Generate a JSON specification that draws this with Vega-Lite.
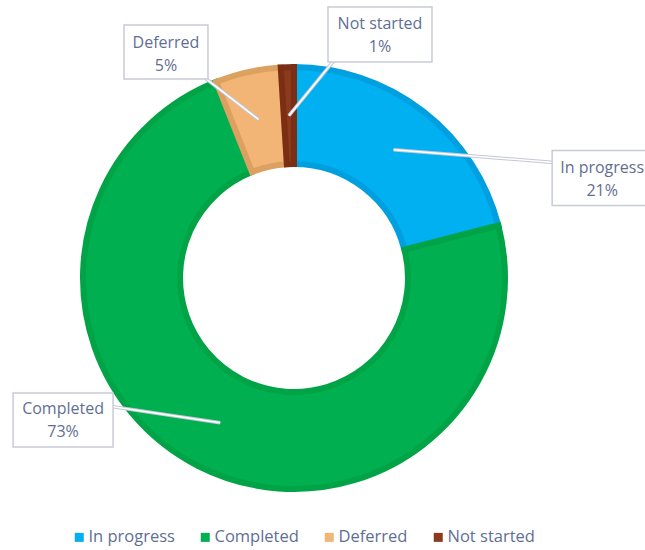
{
  "$schema": "https://vega.github.io/schema/vega-lite/v6.json",
  "width": 576,
  "height": 544,
  "padding": {"left": 6, "top": 6, "right": 63, "bottom": 0},
  "autosize": {"type": "none"},
  "background": "white",
  "config": {"view": {"stroke": null}, "font": "Open Sans"},
  "data": {
    "values": [
      {"category": "In progress", "value": 21},
      {"category": "Completed", "value": 73},
      {"category": "Deferred", "value": 5},
      {"category": "Not started", "value": 1}
    ]
  },
  "transform": [
    {"window": [{"op": "sum", "field": "value", "as": "cum"}], "frame": [null, 0]},
    {"joinaggregate": [{"op": "sum", "field": "value", "as": "total"}]},
    {"calculate": "2*PI*(datum.cum - datum.value/2)/datum.total", "as": "mid"},
    {"calculate": "0.759*sin(datum.mid)", "as": "tipX"},
    {"calculate": "0.759*cos(datum.mid)", "as": "tipY"},
    {"calculate": "[datum.category, datum.value + '%']", "as": "label"}
  ],
  "layer": [
    {
      "mark": {"type": "arc", "outerRadius": 211, "innerRadius": 114, "strokeWidth": 6},
      "encoding": {
        "theta": {"field": "value", "type": "quantitative", "stack": true},
        "order": {"field": "cum", "type": "quantitative"},
        "color": {
          "field": "category", "type": "nominal",
          "scale": {"domain": ["In progress", "Completed", "Deferred", "Not started"], "range": ["#00B0F0", "#00B050", "#F2B575", "#8B3A1E"]},
          "legend": {
            "orient": "none", "legendX": 65, "legendY": 523, "direction": "horizontal", "title": null,
            "labelFont": "Open Sans", "labelFontSize": 16.5, "labelColor": "#5f6f93",
            "symbolType": "square", "symbolSize": 81, "symbolStrokeWidth": 0,
            "labelOffset": 1, "columnPadding": 22, "padding": 0
          }
        },
        "stroke": {
          "field": "category", "type": "nominal",
          "scale": {"domain": ["In progress", "Completed", "Deferred", "Not started"], "range": ["#00A0E0", "#00A345", "#DCA060", "#7A2E14"]},
          "legend": null
        }
      }
    },
    {
      "transform": [{"filter": "datum.category === 'In progress'"}],
      "encoding": {
        "x": {"field": "tipX", "type": "quantitative", "scale": {"domain": [-1.3458, 1.3458], "nice": false, "zero": false}, "axis": null},
        "y": {"field": "tipY", "type": "quantitative", "scale": {"domain": [-1.271, 1.271], "nice": false, "zero": false}, "axis": null}
      },
      "layer": [
        {"mark": {"type": "rule", "stroke": "#c3c8d4", "strokeWidth": 3.5, "x2Offset": 166.6, "y2Offset": 13.4}, "encoding": {"x2": {"field": "tipX"}, "y2": {"field": "tipY"}}},
        {"mark": {"type": "rule", "stroke": "white", "strokeWidth": 1.5, "x2Offset": 166.6, "y2Offset": 13.4}, "encoding": {"x2": {"field": "tipX"}, "y2": {"field": "tipY"}}},
        {"mark": {"type": "point", "shape": "M-1,-0.55H1V0.55H-1Z", "size": 10000, "filled": true, "fill": "white", "stroke": "#c8ccd6", "strokeWidth": 1.5, "opacity": 1, "xOffset": 208.6, "yOffset": 28.4}},
        {"mark": {"type": "text", "dx": 208.6, "dy": 17.9, "font": "Open Sans", "fontSize": 16, "lineHeight": 23, "align": "center", "baseline": "middle", "color": "#5f6f93"}, "encoding": {"text": {"field": "label"}}}
      ]
    },
    {
      "transform": [{"filter": "datum.category === 'Completed'"}],
      "encoding": {
        "x": {"field": "tipX", "type": "quantitative", "axis": null},
        "y": {"field": "tipY", "type": "quantitative", "axis": null}
      },
      "layer": [
        {"mark": {"type": "rule", "stroke": "#c3c8d4", "strokeWidth": 3.5, "x2Offset": -112.2, "y2Offset": -16.8}, "encoding": {"x2": {"field": "tipX"}, "y2": {"field": "tipY"}}},
        {"mark": {"type": "rule", "stroke": "white", "strokeWidth": 1.5, "x2Offset": -112.2, "y2Offset": -16.8}, "encoding": {"x2": {"field": "tipX"}, "y2": {"field": "tipY"}}},
        {"mark": {"type": "point", "shape": "M-1,-0.54H1V0.54H-1Z", "size": 10000, "filled": true, "fill": "white", "stroke": "#c8ccd6", "strokeWidth": 1.5, "opacity": 1, "xOffset": -157.2, "yOffset": -2.8}},
        {"mark": {"type": "text", "dx": -157.2, "dy": -13.8, "font": "Open Sans", "fontSize": 16, "lineHeight": 23, "align": "center", "baseline": "middle", "color": "#5f6f93"}, "encoding": {"text": {"field": "label"}}}
      ]
    },
    {
      "transform": [{"filter": "datum.category === 'Deferred'"}],
      "encoding": {
        "x": {"field": "tipX", "type": "quantitative", "axis": null},
        "y": {"field": "tipY", "type": "quantitative", "axis": null}
      },
      "layer": [
        {"mark": {"type": "rule", "stroke": "#c3c8d4", "strokeWidth": 3.5, "x2Offset": -58.6, "y2Offset": -45.4}, "encoding": {"x2": {"field": "tipX"}, "y2": {"field": "tipY"}}},
        {"mark": {"type": "rule", "stroke": "white", "strokeWidth": 1.5, "x2Offset": -58.6, "y2Offset": -45.4}, "encoding": {"x2": {"field": "tipX"}, "y2": {"field": "tipY"}}},
        {"mark": {"type": "point", "shape": "M-1,-0.643H1V0.643H-1Z", "size": 7056, "filled": true, "fill": "white", "stroke": "#c8ccd6", "strokeWidth": 1.5, "opacity": 1, "xOffset": -92.6, "yOffset": -67.4}},
        {"mark": {"type": "text", "dx": -92.6, "dy": -76.9, "font": "Open Sans", "fontSize": 16, "lineHeight": 23, "align": "center", "baseline": "middle", "color": "#5f6f93"}, "encoding": {"text": {"field": "label"}}}
      ]
    },
    {
      "transform": [{"filter": "datum.category === 'Not started'"}],
      "encoding": {
        "x": {"field": "tipX", "type": "quantitative", "axis": null},
        "y": {"field": "tipY", "type": "quantitative", "axis": null}
      },
      "layer": [
        {"mark": {"type": "rule", "stroke": "#c3c8d4", "strokeWidth": 3.5, "x2Offset": 47.1, "y2Offset": -57.6}, "encoding": {"x2": {"field": "tipX"}, "y2": {"field": "tipY"}}},
        {"mark": {"type": "rule", "stroke": "white", "strokeWidth": 1.5, "x2Offset": 47.1, "y2Offset": -57.6}, "encoding": {"x2": {"field": "tipX"}, "y2": {"field": "tipY"}}},
        {"mark": {"type": "point", "shape": "M-1,-0.529H1V0.529H-1Z", "size": 10816, "filled": true, "fill": "white", "stroke": "#c8ccd6", "strokeWidth": 1.5, "opacity": 1, "xOffset": 91.1, "yOffset": -81.1}},
        {"mark": {"type": "text", "dx": 91.1, "dy": -92.1, "font": "Open Sans", "fontSize": 16, "lineHeight": 23, "align": "center", "baseline": "middle", "color": "#5f6f93"}, "encoding": {"text": {"field": "label"}}}
      ]
    }
  ]
}
